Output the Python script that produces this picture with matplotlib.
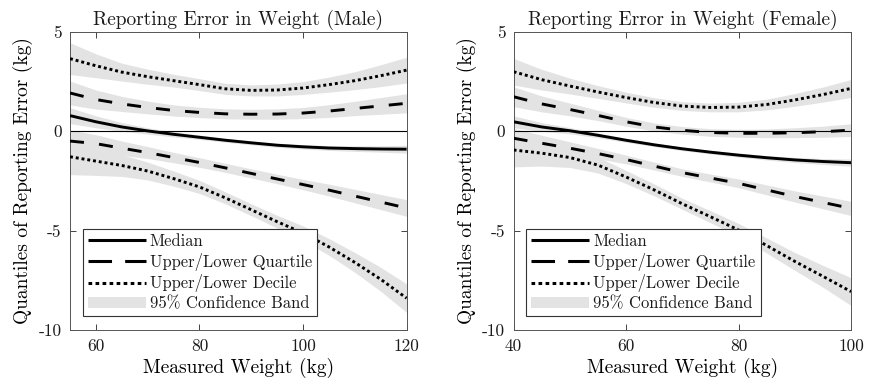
import numpy as np
import matplotlib
matplotlib.use("Agg")
import matplotlib.pyplot as plt
from matplotlib.patches import Patch
from matplotlib.lines import Line2D

# quantile regression curves of self-reported minus measured weight (kg)
male_w = [55, 60, 65, 70, 75, 80, 85, 90, 95, 100, 105, 110, 115, 120]
male_q90 = [3.66, 3.30, 2.98, 2.75, 2.55, 2.35, 2.14, 2.06, 2.08, 2.18, 2.35, 2.55, 2.80, 3.08]
male_q75 = [1.93, 1.60, 1.38, 1.20, 1.05, 0.95, 0.88, 0.86, 0.87, 0.92, 1.02, 1.15, 1.28, 1.41]
male_q50 = [0.79, 0.48, 0.22, 0.02, -0.15, -0.30, -0.45, -0.58, -0.70, -0.78, -0.84, -0.87, -0.89, -0.90]
male_q25 = [-0.49, -0.62, -0.85, -1.07, -1.32, -1.57, -1.84, -2.12, -2.40, -2.68, -2.96, -3.26, -3.56, -3.86]
male_q10 = [-1.28, -1.50, -1.72, -2.00, -2.38, -2.80, -3.35, -3.95, -4.55, -5.12, -5.82, -6.60, -7.45, -8.40]
# half-widths of the 95% confidence bands
male_ci90 = [0.80, 0.60, 0.45, 0.38, 0.32, 0.30, 0.28, 0.28, 0.30, 0.32, 0.38, 0.45, 0.55, 0.65]
male_ci75 = [0.60, 0.48, 0.38, 0.32, 0.28, 0.26, 0.25, 0.25, 0.26, 0.28, 0.32, 0.36, 0.42, 0.48]
male_ci50 = [0.40, 0.30, 0.22, 0.16, 0.13, 0.11, 0.10, 0.10, 0.10, 0.11, 0.12, 0.14, 0.16, 0.20]
male_ci25 = [0.55, 0.45, 0.36, 0.30, 0.26, 0.24, 0.23, 0.23, 0.24, 0.26, 0.30, 0.34, 0.38, 0.42]
male_ci10 = [0.90, 0.72, 0.55, 0.45, 0.38, 0.33, 0.30, 0.30, 0.32, 0.36, 0.42, 0.50, 0.60, 0.72]

female_w = [40, 45, 50, 55, 60, 65, 70, 75, 80, 85, 90, 95, 100]
female_q90 = [3.00, 2.60, 2.28, 1.98, 1.70, 1.45, 1.27, 1.20, 1.22, 1.35, 1.58, 1.85, 2.16]
female_q75 = [1.74, 1.38, 1.10, 0.80, 0.48, 0.22, 0.05, -0.06, -0.10, -0.10, -0.07, -0.02, 0.06]
female_q50 = [0.48, 0.22, 0.03, -0.20, -0.45, -0.68, -0.88, -1.05, -1.20, -1.33, -1.44, -1.52, -1.58]
female_q25 = [-0.35, -0.60, -0.85, -1.12, -1.42, -1.75, -2.08, -2.35, -2.62, -2.95, -3.28, -3.58, -3.88]
female_q10 = [-0.94, -1.10, -1.32, -1.70, -2.30, -2.95, -3.65, -4.30, -4.97, -5.75, -6.55, -7.30, -8.07]
female_ci90 = [0.67, 0.52, 0.40, 0.32, 0.27, 0.24, 0.22, 0.22, 0.24, 0.27, 0.32, 0.38, 0.45]
female_ci75 = [0.50, 0.40, 0.32, 0.26, 0.22, 0.20, 0.19, 0.19, 0.20, 0.22, 0.25, 0.28, 0.32]
female_ci50 = [0.30, 0.22, 0.16, 0.12, 0.10, 0.09, 0.09, 0.09, 0.10, 0.11, 0.13, 0.15, 0.18]
female_ci25 = [0.50, 0.40, 0.32, 0.26, 0.22, 0.20, 0.19, 0.20, 0.22, 0.25, 0.28, 0.32, 0.36]
female_ci10 = [0.85, 0.65, 0.50, 0.40, 0.33, 0.30, 0.28, 0.30, 0.33, 0.38, 0.45, 0.55, 0.70]

plt.rcParams.update({
    "font.family": ["cmr10", "DejaVu Serif"],
    "axes.unicode_minus": False,
    "axes.formatter.use_mathtext": False,
    "text.color": "#1a1a1a",
    "xtick.color": "#262626", "ytick.color": "#262626",
    "xtick.labelcolor": "#1a1a1a", "ytick.labelcolor": "#1a1a1a",
})

BAND = "#e3e3e3"
STYLES = {"q50": "-", "q25": (0, (4.8, 5.2)), "q10": (0, (1.0, 1.0))}


def panel(ax, w, q, ci, title, xlim, xticks):
    w = np.asarray(w)
    for key in ("q90", "q75", "q50", "q25", "q10"):
        m, h = np.asarray(q[key]), np.asarray(ci[key])
        ax.fill_between(w, m - h, m + h, color=BAND, lw=0, zorder=1)
    ax.axhline(0, color="black", lw=0.8, zorder=2)
    for key in ("q90", "q75", "q50", "q25", "q10"):
        ls = STYLES[{"q90": "q10", "q75": "q25"}.get(key, key)]
        ax.plot(w, q[key], color="black", lw=2.1, ls=ls, dash_capstyle="butt",
                solid_capstyle="butt", zorder=3)
    ax.set_xlim(*xlim)
    ax.set_ylim(-10, 5)
    ax.set_xticks(xticks)
    ax.set_yticks([-10, -5, 0, 5])
    ax.tick_params(direction="in", top=True, right=True, length=4, width=0.6,
                   labelsize=12.5, pad=6)
    for s in ax.spines.values():
        s.set_color("#555555")
        s.set_linewidth(0.7)
    ax.set_title(title, fontsize=14, pad=5)
    ax.set_xlabel("Measured Weight (kg)", fontsize=14, labelpad=3)
    ax.set_ylabel("Quantiles of Reporting Error (kg)", fontsize=14, labelpad=4)
    handles = [
        Line2D([], [], color="black", lw=2.2, ls="-", solid_capstyle="butt"),
        Line2D([], [], color="black", lw=2.2, ls=(0, (7.7, 4.3)), dash_capstyle="butt"),
        Line2D([], [], color="black", lw=2.2, ls=(0, (1.2, 1.1)), dash_capstyle="butt"),
        Patch(facecolor=BAND, edgecolor="none"),
    ]
    labels = ["Median", "Upper/Lower Quartile", "Upper/Lower Decile", "95% Confidence Band"]
    leg = ax.legend(handles, labels, loc="lower left", bbox_to_anchor=(0.038, 0.046),
                    fontsize=11.9, handlelength=3.5, handletextpad=0.25, borderpad=0.3,
                    labelspacing=0.22, borderaxespad=0, fancybox=False, framealpha=1)
    leg.get_frame().set_edgecolor("#333333")
    leg.get_frame().set_linewidth(0.8)
    leg.set_zorder(5)


fig = plt.figure(figsize=(8.72, 3.81), dpi=100)
ax1 = fig.add_axes([0.0803, 0.134, 0.386, 0.782])
ax2 = fig.add_axes([0.589, 0.134, 0.387, 0.782])

panel(ax1, male_w,
      {"q90": male_q90, "q75": male_q75, "q50": male_q50, "q25": male_q25, "q10": male_q10},
      {"q90": male_ci90, "q75": male_ci75, "q50": male_ci50, "q25": male_ci25, "q10": male_ci10},
      "Reporting Error in Weight (Male)", (55, 120), [60, 80, 100, 120])
panel(ax2, female_w,
      {"q90": female_q90, "q75": female_q75, "q50": female_q50, "q25": female_q25, "q10": female_q10},
      {"q90": female_ci90, "q75": female_ci75, "q50": female_ci50, "q25": female_ci25, "q10": female_ci10},
      "Reporting Error in Weight (Female)", (40, 100), [40, 60, 80, 100])

fig.savefig("out.png", dpi=100)
